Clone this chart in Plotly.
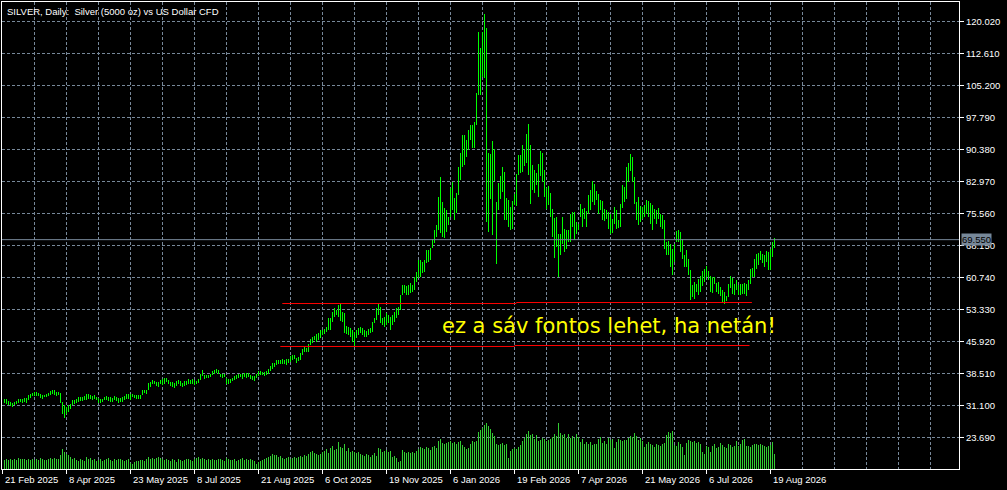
import plotly.graph_objects as go

# ---- chart data ----
symbol_title = "SILVER, Daily:\u00a0\u00a0Silver (5000 oz) vs US Dollar CFD"

# daily bar highs / lows, bar 0 = 21 Feb 2025
bar_high = [
    32.74, 32.58, 32.19, 31.96, 31.73, 31.96, 32.19, 32.74, 32.74, 32.74,
    32.90, 32.97, 33.52, 33.91, 34.14, 34.22, 34.22, 34.14, 33.91, 33.68,
    33.52, 33.91, 34.14, 34.46, 34.69, 34.69, 34.30, 34.30, 34.07, 31.96,
    31.18, 30.79, 31.18, 31.57, 32.35, 32.51, 32.58, 33.13, 33.13, 33.13,
    33.29, 33.75, 33.75, 33.68, 33.36, 33.52, 33.13, 32.90, 32.74, 32.74,
    33.13, 33.29, 33.13, 33.13, 32.90, 33.29, 33.05, 32.90, 32.90, 33.13,
    33.36, 33.75, 33.91, 33.75, 33.91, 33.68, 33.52, 33.52, 33.68, 34.85,
    34.85, 34.85, 36.25, 36.64, 37.03, 36.87, 36.64, 36.48, 37.11, 37.27,
    37.50, 37.50, 36.96, 36.57, 36.50, 36.42, 36.73, 36.96, 36.73, 36.42,
    36.73, 36.73, 37.19, 37.04, 37.19, 36.96, 36.73, 37.27, 38.50, 39.28,
    38.27, 38.12, 38.12, 38.50, 39.12, 39.43, 39.51, 39.43, 38.50, 38.35,
    38.50, 37.58, 37.35, 37.35, 37.58, 37.89, 38.12, 38.43, 38.50, 38.35,
    38.74, 38.74, 38.66, 38.27, 38.04, 37.96, 38.50, 39.04, 39.04, 38.89,
    38.81, 39.12, 39.58, 40.20, 40.97, 40.97, 41.59, 41.59, 41.75, 41.82,
    41.59, 41.82, 41.98, 42.52, 42.75, 42.90, 42.21, 42.36, 43.29, 44.14,
    44.68, 44.53, 45.45, 46.61, 47.00, 47.23, 47.61, 47.92, 48.54, 48.54,
    48.93, 49.31, 51.40, 51.32, 52.87, 53.64, 53.25, 54.41, 54.64, 52.87,
    52.48, 49.55, 49.39, 49.01, 48.62, 48.24, 48.62, 49.01, 49.39, 49.01,
    48.62, 48.39, 48.78, 49.01, 50.55, 51.32, 53.64, 54.64, 54.03, 51.32,
    51.56, 52.48, 52.09, 51.71, 52.09, 52.87, 53.64, 54.03, 56.73, 59.04,
    59.04, 58.81, 59.04, 59.43, 59.04, 60.97, 62.13, 64.83, 64.83, 64.45,
    64.83, 67.15, 67.15, 67.53, 69.62, 71.78, 72.94, 79.50, 84.13, 78.34,
    76.80, 76.41, 74.87, 81.43, 82.97, 79.11, 80.42, 86.44, 89.53, 93.78,
    93.78, 92.62, 94.94, 96.09, 96.09, 96.87, 103.43, 117.71, 113.85, 117.71,
    121.80, 118.48, 89.53, 89.46, 92.31, 90.46, 78.26, 82.66, 84.21, 86.37,
    85.21, 79.27, 78.80, 77.10, 78.42, 80.04, 84.67, 89.07, 89.07, 91.39,
    90.38, 94.09, 96.40, 91.39, 86.75, 85.60, 84.98, 86.99, 90.07, 89.61,
    85.60, 81.58, 81.89, 80.35, 76.72, 74.63, 74.79, 70.78, 70.93, 74.79,
    72.09, 71.86, 71.86, 75.41, 75.95, 75.95, 73.63, 73.25, 77.72, 76.72,
    76.87, 76.18, 79.81, 80.96, 83.05, 82.51, 80.81, 80.04, 78.65, 78.42,
    76.72, 76.49, 75.95, 75.56, 74.40, 77.03, 76.33, 74.17, 77.88, 82.12,
    81.74, 86.37, 87.29, 89.46, 88.68, 84.05, 78.26, 79.42, 77.26, 77.10,
    77.49, 78.80, 78.41, 78.03, 77.49, 76.72, 76.33, 76.95, 75.40, 75.17,
    74.17, 69.00, 69.15, 68.61, 67.45, 68.46, 71.54, 71.70, 71.31, 69.77,
    65.91, 67.22, 65.14, 62.44, 59.12, 59.73, 59.35, 60.51, 61.05, 62.28,
    62.82, 63.36, 62.28, 61.05, 60.89, 60.89, 59.50, 59.73, 58.58, 57.96,
    57.42, 56.42, 59.19, 61.05, 60.74, 59.19, 60.27, 59.12, 59.35, 59.19,
    59.50, 59.19, 60.12, 62.82, 63.05, 65.14, 66.14, 66.45, 66.84, 66.30,
    65.91, 66.84, 66.68, 67.45, 69.00, 70.00,
]
bar_low = [
    31.80, 31.57, 31.34, 31.10, 30.79, 31.18, 31.41, 31.80, 31.96, 31.80,
    31.96, 31.73, 32.51, 32.90, 33.36, 33.44, 33.36, 33.29, 32.97, 32.74,
    33.05, 33.13, 33.36, 33.52, 33.75, 33.52, 33.44, 33.52, 31.73, 29.23,
    28.22, 29.23, 29.62, 30.40, 31.18, 31.57, 31.80, 31.96, 32.19, 32.19,
    32.35, 32.51, 32.74, 32.74, 32.35, 32.58, 32.35, 31.73, 31.80, 31.96,
    32.35, 32.35, 32.19, 31.96, 31.96, 32.35, 32.12, 31.73, 31.96, 31.96,
    32.35, 32.74, 32.74, 32.35, 33.13, 32.90, 32.66, 32.74, 32.66, 33.68,
    34.07, 33.91, 34.85, 35.47, 36.09, 36.09, 35.70, 35.47, 36.03, 35.80,
    36.19, 36.50, 36.03, 35.57, 35.42, 35.18, 35.65, 36.03, 35.57, 35.42,
    35.72, 35.80, 36.11, 36.19, 36.11, 35.96, 36.03, 36.34, 37.11, 37.89,
    37.35, 37.50, 37.50, 37.73, 38.12, 38.50, 38.66, 38.35, 37.73, 37.58,
    37.73, 36.19, 36.11, 36.42, 36.73, 36.96, 37.35, 37.50, 37.73, 37.35,
    37.73, 37.58, 37.73, 37.35, 37.11, 36.73, 37.58, 37.89, 38.27, 38.12,
    37.89, 38.27, 38.50, 39.12, 39.66, 40.05, 40.43, 40.67, 40.67, 40.82,
    40.67, 40.43, 40.97, 41.13, 41.59, 41.90, 41.05, 41.36, 41.75, 42.90,
    43.52, 43.52, 43.52, 45.07, 45.61, 46.22, 45.84, 46.38, 46.84, 47.38,
    47.77, 48.15, 48.54, 48.62, 50.55, 51.71, 52.09, 51.71, 50.78, 50.55,
    47.85, 47.62, 47.46, 47.08, 45.92, 44.99, 46.69, 47.46, 47.85, 47.46,
    46.92, 46.92, 47.46, 47.85, 48.24, 50.17, 50.94, 52.09, 50.17, 49.78,
    49.39, 49.78, 50.17, 48.62, 49.78, 50.55, 51.32, 52.09, 53.25, 56.73,
    57.11, 56.73, 56.73, 57.11, 57.50, 57.88, 59.81, 60.59, 60.97, 61.74,
    62.13, 64.06, 64.45, 64.83, 67.53, 68.69, 70.24, 71.78, 71.01, 70.24,
    69.85, 71.39, 72.94, 74.87, 76.41, 74.09, 75.64, 79.88, 83.36, 86.44,
    86.83, 88.76, 90.30, 92.62, 90.69, 90.69, 96.09, 103.04, 103.04, 107.29,
    106.90, 73.71, 71.39, 79.03, 70.54, 83.05, 63.98, 76.33, 79.03, 80.58,
    74.17, 74.02, 72.47, 71.86, 72.09, 77.49, 77.26, 84.44, 85.06, 85.21,
    86.52, 87.29, 84.44, 77.72, 81.12, 80.35, 82.12, 79.42, 84.36, 82.89,
    79.42, 76.72, 77.49, 74.79, 70.16, 65.29, 67.84, 60.89, 65.91, 68.61,
    66.68, 67.46, 69.00, 69.00, 72.47, 69.54, 70.93, 71.86, 74.79, 72.47,
    74.40, 72.47, 75.41, 76.33, 78.26, 77.49, 78.65, 75.41, 76.33, 74.02,
    73.79, 74.25, 71.93, 70.93, 71.16, 73.25, 72.09, 72.24, 72.47, 76.87,
    78.26, 79.03, 82.89, 85.36, 82.89, 77.88, 74.02, 72.86, 73.63, 74.40,
    74.79, 75.40, 74.79, 73.24, 71.70, 74.40, 73.24, 74.40, 72.47, 72.08,
    67.45, 65.91, 65.91, 63.21, 61.28, 64.37, 69.00, 69.00, 66.68, 65.14,
    63.21, 63.21, 61.28, 55.49, 56.26, 55.87, 57.42, 56.65, 57.42, 58.73,
    59.73, 60.89, 60.12, 57.42, 57.19, 59.19, 57.42, 57.03, 56.42, 55.10,
    54.72, 55.33, 56.26, 58.42, 57.03, 56.65, 57.96, 56.65, 56.65, 56.88,
    56.88, 56.57, 57.80, 59.35, 60.89, 60.89, 62.82, 63.59, 64.75, 64.13,
    63.21, 64.37, 62.44, 62.59, 65.52, 67.68,
]
# tick volume (thousands of ticks)
tick_volume = [
    9, 10, 9, 10, 9, 10, 9, 11, 10, 10, 10, 9,
    10, 9, 10, 9, 10, 9, 11, 10, 9, 9, 10, 11, 10, 11, 10, 10,
    14, 20, 17, 15, 14, 12, 10, 11,
    9, 8, 10, 9, 8, 12, 10, 11, 9, 10, 8, 9, 10, 8, 9, 10, 11, 9, 8, 10, 9, 10, 10, 9, 8, 9, 10,
    6, 5, 7, 8, 8, 9, 9, 8,
    10, 12, 10, 11, 10, 11, 12, 11, 10, 9, 10, 9, 8, 10, 9, 7, 10, 9, 8, 9, 10, 10, 9, 8,
    10, 11, 12, 10, 11, 10, 9, 10, 9, 10, 9,
    9, 10, 10, 9, 8, 11, 10, 9, 9, 10, 8, 9, 10, 11, 9, 10, 9, 10, 9, 8,
    5, 7, 8, 9, 10, 11,
    12, 13, 15, 14, 14, 12, 13, 11, 10, 11, 12, 10, 11, 12, 11, 12, 13, 12, 14, 13, 15,
    17, 18, 16, 15, 14, 15, 17, 18, 20, 16, 21, 23, 19,
    20, 27, 22, 21, 25, 18, 21,
    17, 18, 17, 16, 17,
    15, 14, 13, 15, 14, 12, 14, 16, 13,
    21, 20, 17, 18, 19, 17, 18,
    12, 13, 11, 7, 8,
    19, 17, 16, 17, 16, 17, 16, 18,
    20, 22, 21, 20, 22, 21, 19, 22, 23, 21,
    28, 30, 26, 25, 26, 27, 28, 26, 27, 25, 27, 28, 24, 22,
    20, 21, 25, 28, 27, 28,
    37, 39, 41, 44, 46, 43, 40, 36, 33,
    25, 24, 25, 26, 24, 25,
    11, 18, 20, 21, 20, 22, 24,
    28, 31, 35, 38, 34, 35, 30, 34, 28,
    29, 31, 30, 28, 29, 30, 32, 35, 33,
    46, 36, 34, 35, 31, 35, 31,
    33, 31, 35, 32, 27, 30,
    25, 27, 25, 27, 24, 25, 25, 30, 32, 26,
    28, 25, 31, 29, 30, 21, 27,
    30, 29, 28, 29, 29, 31, 33, 32,
    36, 33, 29, 31, 28,
    22, 25, 27, 25, 24, 22, 25, 24, 23, 25, 26,
    34, 37, 36, 38,
    24, 23, 27, 25, 22, 14,
    26, 29, 28, 27, 28, 26, 27, 25, 17,
    15, 23, 22, 17,
    23, 25, 21, 22, 26, 24, 22, 21, 25, 24, 22, 23,
    28, 23, 25, 29, 30,
    23, 23, 22, 24, 25, 25, 24, 25, 24, 23, 22, 23, 24,
    27, 15,
]

date_labels = ["21 Feb 2025", "8 Apr 2025", "23 May 2025", "8 Jul 2025", "21 Aug 2025",
               "6 Oct 2025", "19 Nov 2025", "6 Jan 2026", "19 Feb 2026", "7 Apr 2026",
               "21 May 2026", "6 Jul 2026", "19 Aug 2026"]
price_ticks = ["23.690", "31.100", "38.510", "45.920", "53.330", "60.740", "68.150",
               "75.560", "82.970", "90.380", "97.790", "105.200", "112.610", "120.020"]

bid_price = 69.55

# hand drawn support band (trend lines): start bar, end bar, price
level_x0 = [138.9, 255.9, 137.9, 255.0]
level_x1 = [255.9, 373.7, 255.0, 372.5]
level_price = [54.76, 54.99, 44.81, 45.04]

note_text = "ez a sáv fontos lehet, ha netán!"
note_bar = 217.9
note_price = 49.6

# ---- figure ----
n_bars = len(bar_high)
idx = list(range(n_bars))
label_idx = [-1 + 32 * k for k in range(len(date_labels))]
grid_idx = [-1 + 16 * k for k in range(31) if (-1 + 16 * k) not in label_idx]

FONT = "Liberation Sans"
GRID = "#778899"

fig = go.Figure()

fig.add_trace(go.Bar(
    x=idx, y=tick_volume, yaxis="y2",
    width=0.5, marker=dict(color="#32CD32", line=dict(width=0)),
    hoverinfo="skip", name="Volumes",
))
fig.add_trace(go.Bar(
    x=idx, y=[h - l for h, l in zip(bar_high, bar_low)], base=bar_low,
    width=0.5, marker=dict(color="#00FF00", line=dict(width=0)),
    customdata=list(zip(bar_high, bar_low)),
    hovertemplate="H %{customdata[0]:.2f}<br>L %{customdata[1]:.2f}<extra></extra>",
    name="SILVER",
))

shapes = [dict(type="line", xref="paper", x0=0, x1=1, yref="y", y0=bid_price, y1=bid_price,
               line=dict(color=GRID, width=1), layer="above")]
for x0, x1, p in zip(level_x0, level_x1, level_price):
    shapes.append(dict(type="line", xref="x", yref="y", x0=x0, x1=x1, y0=p, y1=p,
                       line=dict(color="#FF0000", width=1), layer="above"))

annotations = [
    dict(text=symbol_title, xref="paper", yref="paper", x=0, y=1, xanchor="left",
         yanchor="top", xshift=3, yshift=-2, showarrow=False,
         font=dict(family=FONT, size=9.5, color="#FFFFFF")),
    dict(text=note_text, xref="x", yref="y", x=note_bar, y=note_price, xanchor="left",
         yanchor="middle", showarrow=False,
         font=dict(family="DejaVu Sans", size=21, color="#FFFF00")),
    dict(text=f"{bid_price:.3f}", xref="paper", yref="y", x=1, y=bid_price, xanchor="left",
         yanchor="middle", xshift=2, showarrow=False, bgcolor=GRID, borderpad=0,
         font=dict(family=FONT, size=9.5, color="#000000")),
]
for pos, lab in zip(label_idx, date_labels):
    annotations.append(dict(text=lab, xref="x", yref="paper", x=pos, y=0, xanchor="left",
                            yanchor="top", yshift=-3, showarrow=False,
                            font=dict(family=FONT, size=9.5, color="#FFFFFF")))

fig.update_layout(
    width=1007, height=490,
    margin=dict(l=2, r=48, t=2, b=21),
    paper_bgcolor="#000000", plot_bgcolor="#000000",
    showlegend=False, barmode="overlay", bargap=0,
    xaxis=dict(
        range=[-1.25, 477.25], tickvals=label_idx, showticklabels=False,
        ticks="outside", ticklen=4, tickcolor="#FFFFFF",
        showgrid=True, gridcolor=GRID, griddash="3px,2px", gridwidth=1,
        minor=dict(tickvals=grid_idx, showgrid=True, gridcolor=GRID,
                   griddash="3px,2px", ticks=""),
        showline=True, linecolor="#FFFFFF", linewidth=1, mirror=True,
        zeroline=False, fixedrange=True,
    ),
    yaxis=dict(
        side="right", range=[16.44, 124.58],
        tickvals=[float(t) for t in price_ticks], ticktext=price_ticks,
        ticks="outside", ticklen=4, tickcolor="#FFFFFF",
        tickfont=dict(family=FONT, size=9.5, color="#FFFFFF"),
        showgrid=True, gridcolor=GRID, griddash="3px,2px", gridwidth=1,
        showline=True, linecolor="#FFFFFF", linewidth=1, mirror=True,
        zeroline=False,
    ),
    yaxis2=dict(overlaying="y", range=[0, 467], visible=False, fixedrange=True),
    shapes=shapes,
    annotations=annotations,
)

# page body has a default margin; drop it so the chart fills the window
fig.write_html("out.html", config={"displayModeBar": False},
               post_script="document.body.style.margin='0';")
